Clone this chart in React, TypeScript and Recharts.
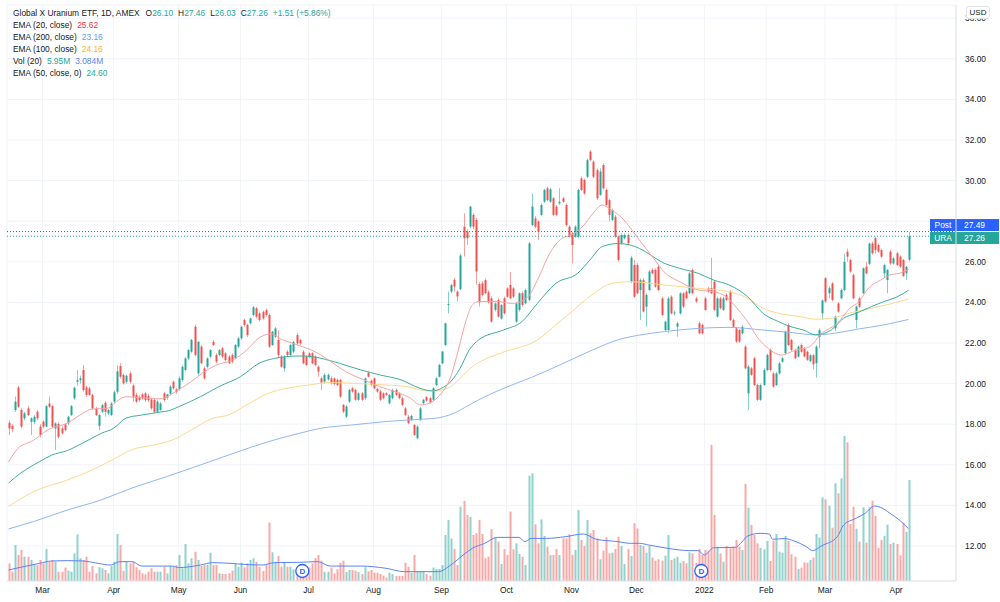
import React from 'react';
import {
  ComposedChart,
  Bar,
  Line,
  XAxis,
  YAxis,
  CartesianGrid,
  ReferenceLine,
  ReferenceDot,
} from 'recharts';

const FONT = "'Liberation Sans', Arial, sans-serif";
const TEXT = '#131722';
const UP = '#26a69a';
const DOWN = '#ef5350';
const VOL_UP = '#92d2cc';
const VOL_DOWN = '#f7a9a7';
const GRID = '#f0f3fa';
const BORDER = '#e0e3eb';

// daily candles: open, high, low, close
const candles: [number, number, number, number][] = [
  [18.07, 18.2, 17.47, 17.79], [17.92, 18.0, 17.6, 17.76], [18.7, 19.36, 18.6, 19.11], [19.81, 19.9, 18.8, 18.86],
  [18.7, 18.8, 17.8, 17.88], [18.29, 18.6, 18.2, 18.53], [18.78, 18.9, 18.4, 18.45], [18.12, 18.35, 17.47, 18.29],
  [18.12, 18.45, 18.0, 18.37], [18.61, 18.7, 18.2, 18.29], [17.88, 18.0, 17.35, 17.47], [18.12, 18.2, 17.8, 17.88],
  [17.88, 18.95, 17.85, 18.89], [19.02, 19.36, 18.8, 18.86], [18.89, 18.95, 17.8, 17.88], [17.79, 18.1, 16.73, 18.04],
  [18.01, 18.1, 17.3, 17.38], [17.79, 17.9, 17.5, 17.55], [17.99, 18.05, 17.65, 17.71], [18.04, 18.4, 17.95, 18.37],
  [18.45, 18.95, 18.4, 18.89], [19.27, 19.85, 19.2, 19.8], [20.09, 20.67, 19.9, 20.17], [20.17, 20.4, 20.0, 20.26],
  [20.67, 20.91, 19.6, 19.68], [19.81, 19.9, 19.35, 19.44], [19.76, 19.85, 19.4, 19.44], [19.44, 19.5, 18.7, 18.78],
  [18.78, 18.86, 18.4, 18.45], [17.92, 18.5, 17.7, 18.45], [18.61, 19.0, 18.55, 18.94], [19.06, 19.15, 18.37, 18.61],
  [18.53, 18.75, 18.45, 18.7], [18.45, 19.1, 18.4, 19.02], [19.11, 19.65, 19.05, 19.57], [19.6, 20.9, 19.5, 20.6],
  [20.86, 21.0, 20.25, 20.34], [20.42, 20.5, 19.95, 20.01], [20.09, 20.45, 20.0, 20.39], [20.5, 20.6, 20.0, 20.09],
  [19.91, 20.0, 19.1, 19.35], [19.44, 19.55, 19.05, 19.11], [19.35, 19.45, 19.1, 19.19], [19.47, 19.55, 19.2, 19.27],
  [19.52, 19.6, 19.1, 19.19], [19.39, 19.5, 19.1, 19.19], [19.22, 19.3, 18.7, 18.78], [19.19, 19.25, 18.53, 18.61],
  [18.61, 19.2, 18.55, 19.11], [18.7, 19.1, 18.65, 19.02], [19.52, 19.6, 19.1, 19.19], [19.31, 19.5, 19.2, 19.47],
  [19.5, 19.93, 19.45, 19.85], [20.09, 20.15, 19.7, 19.77], [19.72, 19.8, 19.5, 19.6], [19.72, 20.35, 19.65, 20.26],
  [20.18, 20.9, 20.1, 20.83], [20.67, 21.3, 20.6, 21.24], [21.24, 21.7, 21.15, 21.65], [21.57, 22.2, 21.5, 22.15],
  [22.8, 22.9, 21.35, 21.41], [20.5, 22.1, 20.4, 22.06], [21.82, 21.9, 20.95, 21.0], [20.75, 20.85, 20.2, 20.26],
  [20.83, 21.3, 20.75, 21.24], [21.33, 21.7, 21.25, 21.65], [22.06, 22.15, 21.85, 21.9], [21.41, 21.5, 21.0, 21.08],
  [21.41, 21.7, 21.35, 21.65], [21.74, 21.8, 21.25, 21.33], [21.49, 21.55, 21.1, 21.16], [21.33, 21.4, 20.95, 21.0],
  [21.41, 21.5, 21.0, 21.08], [21.24, 21.95, 21.2, 21.9], [21.82, 22.3, 21.75, 22.23], [22.23, 22.85, 22.15, 22.8],
  [23.13, 23.2, 22.8, 22.89], [22.89, 22.95, 22.3, 22.39], [22.97, 23.25, 22.9, 23.21], [23.38, 23.82, 23.3, 23.76],
  [23.71, 23.78, 23.2, 23.3], [23.46, 23.55, 23.05, 23.13], [23.54, 23.6, 23.15, 23.21], [23.62, 23.7, 23.3, 23.38],
  [23.38, 23.45, 21.75, 21.82], [21.9, 22.6, 21.85, 22.56], [22.31, 22.78, 22.25, 22.72], [22.15, 22.64, 21.3, 21.41],
  [21.33, 21.4, 20.78, 20.83], [20.75, 21.4, 20.59, 21.33], [21.57, 21.65, 21.35, 21.41], [21.41, 21.95, 21.35, 21.9],
  [21.57, 22.1, 21.5, 22.06], [22.39, 22.5, 21.9, 21.98], [22.15, 22.2, 21.9, 21.98], [21.57, 21.65, 20.95, 21.0],
  [21.33, 21.4, 20.85, 20.92], [21.49, 21.55, 21.25, 21.33], [21.49, 21.55, 20.95, 21.0], [21.33, 21.4, 20.85, 20.92],
  [20.83, 20.9, 20.34, 20.59], [20.26, 20.35, 19.68, 20.05], [20.1, 20.5, 20.0, 20.43], [20.21, 20.5, 20.15, 20.43],
  [20.26, 20.35, 19.95, 20.02], [20.26, 20.3, 19.9, 19.98], [20.18, 20.25, 19.88, 19.93], [20.18, 20.25, 19.3, 19.36],
  [18.95, 19.0, 18.54, 18.62], [18.37, 18.95, 18.3, 18.87], [19.11, 19.75, 19.05, 19.69], [19.77, 19.85, 19.55, 19.61],
  [19.69, 19.75, 19.15, 19.2], [19.2, 19.58, 19.15, 19.52], [19.52, 19.58, 19.15, 19.2], [19.28, 20.3, 19.2, 20.26],
  [20.54, 20.6, 20.3, 20.34], [20.15, 20.2, 19.88, 19.93], [20.26, 20.3, 19.72, 19.77], [19.74, 19.8, 19.55, 19.61],
  [19.61, 19.68, 19.15, 19.2], [19.52, 19.58, 19.22, 19.28], [19.52, 19.58, 19.4, 19.44], [19.03, 19.5, 18.98, 19.44],
  [19.28, 19.75, 19.22, 19.69], [19.69, 19.75, 19.38, 19.44], [19.52, 19.58, 19.22, 19.28], [19.28, 19.35, 18.9, 18.95],
  [18.78, 18.85, 18.4, 18.46], [18.37, 18.45, 18.0, 18.05], [18.21, 18.48, 18.15, 18.41], [17.96, 18.02, 17.42, 17.47],
  [17.31, 17.95, 17.26, 17.88], [18.21, 18.85, 18.15, 18.78], [19.03, 19.25, 18.98, 19.2], [19.33, 19.4, 19.1, 19.16],
  [19.28, 19.35, 19.0, 19.06], [19.2, 19.82, 19.15, 19.77], [19.93, 20.32, 19.88, 20.26], [20.34, 20.98, 20.3, 20.92],
  [21.0, 21.62, 20.95, 21.58], [21.9, 23.0, 21.85, 22.97], [23.87, 24.53, 23.46, 23.92], [24.53, 24.92, 24.45, 24.86],
  [25.11, 25.2, 24.53, 24.78], [24.53, 24.6, 24.04, 24.29], [24.65, 26.4, 24.6, 26.31], [27.73, 28.39, 26.26, 27.16],
  [27.49, 27.6, 26.83, 27.16], [27.73, 28.75, 27.65, 28.72], [28.31, 28.4, 27.6, 27.73], [28.06, 28.15, 24.86, 25.52],
  [24.9, 25.0, 23.8, 24.0], [24.94, 25.05, 24.3, 24.36], [25.1, 25.2, 24.4, 24.45], [24.5, 24.6, 23.95, 24.0],
  [24.2, 24.3, 23.0, 23.05], [23.63, 24.0, 23.55, 23.95], [24.12, 24.2, 23.25, 23.3], [23.2, 23.92, 23.15, 23.87],
  [24.2, 24.28, 23.4, 23.46], [24.69, 24.75, 24.22, 24.28], [24.86, 25.5, 24.15, 24.2], [24.69, 24.75, 24.22, 24.28],
  [23.05, 24.0, 23.0, 23.95], [23.63, 24.5, 23.55, 24.45], [24.45, 24.55, 23.8, 23.87], [23.95, 24.68, 23.9, 24.61],
  [24.12, 26.98, 24.05, 26.91], [27.81, 29.37, 27.75, 28.72], [28.14, 28.25, 27.65, 27.73], [27.98, 28.05, 27.07, 27.48],
  [28.31, 28.88, 28.25, 28.8], [28.96, 29.6, 28.9, 29.54], [29.62, 29.7, 28.98, 29.04], [28.96, 29.65, 28.9, 29.57],
  [29.13, 29.2, 28.25, 28.31], [28.72, 28.8, 28.25, 28.31], [28.88, 29.62, 28.8, 28.96], [29.13, 29.2, 28.9, 28.96],
  [28.8, 28.88, 27.75, 27.81], [27.73, 27.8, 27.18, 27.24], [27.4, 27.48, 25.92, 26.83], [27.24, 27.8, 27.18, 27.73],
  [27.24, 29.6, 27.18, 29.54], [30.11, 30.2, 29.48, 29.54], [30.03, 30.1, 29.3, 29.37], [30.19, 31.08, 30.12, 31.01],
  [31.43, 31.5, 30.95, 31.01], [30.93, 31.0, 30.12, 30.19], [30.52, 30.6, 29.05, 29.13], [29.3, 30.6, 29.25, 30.45],
  [30.77, 30.85, 29.55, 29.62], [29.54, 29.62, 28.72, 28.8], [29.04, 29.1, 28.0, 28.31], [28.06, 28.62, 28.0, 28.55],
  [28.22, 28.3, 27.18, 27.24], [27.24, 27.3, 26.02, 26.09], [26.91, 27.4, 26.85, 27.32], [27.16, 27.4, 27.1, 27.32],
  [27.32, 27.4, 26.85, 26.91], [25.02, 26.3, 24.95, 26.2], [25.84, 26.09, 24.22, 24.28], [25.84, 25.95, 24.4, 24.45],
  [24.61, 25.18, 23.13, 25.1], [25.1, 25.2, 23.5, 23.55], [23.79, 24.45, 22.8, 24.37], [24.61, 25.6, 24.55, 25.52],
  [25.6, 25.68, 25.38, 25.43], [25.6, 25.68, 24.72, 24.78], [25.76, 25.85, 24.55, 24.61], [24.2, 24.28, 23.32, 23.38],
  [22.64, 23.1, 22.58, 23.05], [22.64, 24.28, 22.48, 24.2], [24.28, 24.35, 23.4, 23.46], [23.46, 23.6, 23.35, 23.5],
  [22.8, 23.05, 22.31, 22.97], [23.46, 24.5, 23.4, 24.45], [24.45, 24.52, 23.72, 23.79], [24.53, 24.6, 24.15, 24.2],
  [24.45, 25.5, 24.4, 25.43], [25.6, 25.68, 24.4, 24.45], [24.2, 24.28, 23.98, 24.04], [22.97, 23.05, 22.42, 22.48],
  [22.89, 22.95, 22.42, 22.48], [24.2, 24.28, 23.58, 23.63], [24.69, 24.75, 24.48, 24.53], [24.7, 26.2, 24.4, 24.45],
  [25.02, 25.1, 23.58, 23.63], [23.3, 24.28, 23.25, 24.2], [24.2, 24.28, 23.65, 23.71], [23.63, 24.28, 23.58, 24.2],
  [24.37, 24.45, 24.05, 24.12], [24.53, 24.6, 23.08, 23.13], [23.13, 23.2, 22.75, 22.8], [22.72, 22.8, 22.0, 22.07],
  [22.64, 22.7, 22.0, 22.07], [22.48, 22.88, 22.42, 22.8], [21.82, 21.9, 20.7, 20.75], [19.52, 20.92, 18.7, 20.84],
  [20.75, 20.82, 20.38, 20.43], [21.25, 21.32, 19.88, 19.93], [19.93, 20.0, 19.15, 19.2], [19.2, 20.0, 19.15, 19.93],
  [19.93, 20.75, 19.88, 20.67], [20.67, 21.48, 20.6, 21.41], [21.66, 21.72, 20.6, 20.67], [20.5, 20.58, 19.8, 19.85],
  [19.93, 20.58, 19.88, 20.5], [20.5, 21.08, 20.45, 21.0], [21.08, 21.32, 21.02, 21.25], [21.5, 22.62, 21.45, 22.56],
  [22.89, 22.97, 21.85, 21.9], [22.15, 22.22, 21.6, 21.66], [21.66, 21.72, 21.2, 21.25], [21.33, 21.88, 21.28, 21.82],
  [21.9, 21.98, 21.52, 21.57], [21.74, 21.8, 21.28, 21.33], [21.57, 21.62, 21.12, 21.17], [21.1, 21.45, 21.05, 21.4],
  [21.4, 21.48, 20.7, 20.95], [21.0, 21.9, 20.3, 21.82], [22.3, 22.72, 21.74, 22.64], [23.46, 24.15, 23.13, 24.1],
  [25.19, 25.25, 23.98, 24.04], [24.45, 24.8, 24.2, 24.7], [24.94, 25.0, 24.05, 24.12], [22.72, 23.35, 22.6, 23.3],
  [23.95, 24.02, 23.5, 23.55], [24.2, 24.68, 24.15, 24.61], [24.61, 26.4, 24.55, 26.0], [26.5, 26.65, 26.0, 26.25],
  [26.09, 26.15, 25.45, 25.52], [25.35, 25.42, 24.15, 24.2], [23.13, 23.85, 22.72, 23.79], [24.2, 24.28, 23.72, 23.79],
  [24.45, 25.72, 24.4, 25.68], [25.76, 26.0, 25.38, 25.43], [25.9, 26.95, 25.85, 26.9], [26.9, 27.0, 26.35, 26.42],
  [27.16, 27.24, 26.4, 26.58], [26.83, 26.9, 26.45, 26.5], [26.58, 26.65, 26.2, 26.25], [25.43, 25.9, 25.2, 25.84],
  [25.1, 25.65, 24.45, 25.6], [26.5, 26.58, 25.85, 25.92], [25.92, 26.25, 25.85, 26.17], [26.42, 26.5, 25.78, 25.84],
  [26.25, 26.32, 25.7, 25.76], [26.09, 26.15, 25.25, 25.3], [25.43, 25.8, 25.1, 25.75], [26.1, 27.46, 26.03, 27.26],
];

// daily volume, millions
const volumes: number[] = [
  1.04, 0.55, 2.12, 1.53, 1.83, 1.43, 1.43, 1.24, 0.94, 0.94, 1.24, 1.04, 1.89, 1.14, 1.24, 1.14, 0.55, 0.55, 0.79, 0.61,
  0.55, 1.63, 2.75, 1.34, 1.24, 1.43, 0.55, 0.88, 0.45, 0.81, 0.75, 0.65, 0.45, 0.88, 1.14, 2.77, 2.12, 0.59, 1.14, 1.04,
  1.14, 0.81, 0.65, 0.45, 0.39, 0.55, 0.75, 0.55, 0.55, 0.55, 0.84, 0.45, 0.88, 0.84, 0.94, 1.53, 0.75, 2.18, 1.04, 1.34,
  1.73, 1.24, 0.88, 0.94, 0.94, 1.67, 0.94, 0.94, 0.45, 0.41, 0.41, 0.45, 0.61, 1.04, 0.84, 1.08, 0.81, 1.04, 1.24, 1.34,
  1.14, 0.84, 0.59, 0.94, 3.44, 1.69, 1.14, 1.47, 0.84, 1.08, 0.84, 0.84, 0.69, 0.45, 0.35, 0.35, 0.69, 0.79, 1.04, 1.34,
  1.53, 1.2, 0.55, 0.55, 0.79, 0.45, 0.69, 1.08, 1.2, 0.53, 0.65, 0.65, 0.61, 0.53, 0.41, 0.81, 0.57, 0.65, 0.49, 0.49,
  0.41, 0.31, 0.2, 0.49, 0.41, 0.29, 0.31, 0.31, 1.08, 0.84, 0.49, 1.53, 0.55, 0.55, 0.55, 0.41, 0.31, 0.79, 0.71, 0.71,
  0.94, 2.71, 3.6, 2.51, 1.89, 0.94, 4.38, 4.72, 3.89, 3.79, 2.71, 2.81, 3.6, 2.77, 1.34, 1.43, 3.06, 2.57, 2.32, 1.0,
  1.89, 1.53, 4.09, 1.87, 2.22, 1.59, 1.43, 0.94, 6.21, 6.35, 3.34, 2.22, 3.63, 2.65, 2.02, 1.53, 1.53, 1.89, 1.53, 2.51,
  2.51, 2.75, 1.53, 1.83, 4.18, 2.42, 2.06, 3.6, 2.81, 3.01, 2.51, 1.28, 1.79, 2.57, 1.63, 1.67, 1.89, 2.61, 2.06, 1.0,
  1.89, 1.47, 3.4, 3.1, 2.12, 2.06, 1.67, 2.06, 1.38, 1.2, 1.28, 1.2, 1.49, 2.71, 1.24, 1.34, 1.43, 1.08, 1.18, 1.04,
  1.69, 1.63, 1.08, 1.89, 1.53, 1.83, 1.79, 8.02, 3.89, 2.02, 1.63, 1.14, 2.06, 1.93, 2.02, 2.42, 2.02, 1.83, 5.72, 4.32,
  3.3, 2.71, 2.22, 1.96, 1.87, 2.36, 1.18, 2.38, 2.77, 1.73, 1.67, 2.65, 2.36, 1.57, 1.43, 0.71, 0.79, 1.1, 1.08, 1.24,
  1.38, 2.77, 2.57, 4.93, 4.81, 4.44, 3.14, 5.76, 5.17, 6.05, 8.55, 8.17, 3.36, 4.38, 3.08, 2.32, 4.34, 2.26, 4.34, 4.73,
  3.83, 1.96, 2.42, 2.65, 3.32, 2.18, 2.26, 2.18, 1.51, 3.44, 2.89, 5.95,
];

// moving averages, sampled as [candle index, value]
const ema20: [number, number][] = [
  [0, 16.14], [3, 16.8], [8, 17.2], [13, 17.75], [19, 18.05], [24, 18.54], [27, 18.75], [32, 18.78], [34, 19.0],
  [38, 19.35], [43, 19.3], [49, 19.25], [55, 19.7], [60, 20.2], [63, 20.55], [67, 20.9], [73, 21.2], [77, 21.65],
  [81, 22.25], [85, 22.45], [88, 22.2], [92, 21.98], [95, 21.82], [98, 21.65], [101, 21.41], [105, 21.0], [109, 20.59],
  [115, 20.18], [120, 19.85], [125, 19.6], [130, 19.28], [133, 18.95], [136, 19.03], [139, 19.36], [143, 20.34],
  [146, 21.99], [148, 23.14], [150, 23.88], [152, 24.04], [158, 24.04], [163, 23.95], [168, 24.28], [171, 25.1],
  [175, 26.42], [179, 27.16], [182, 27.32], [186, 27.8], [189, 28.39], [192, 28.8], [195, 28.55], [199, 28.06],
  [202, 27.48], [204, 27.07], [209, 26.09], [212, 25.5], [217, 25.02], [223, 24.61], [228, 24.53], [232, 24.28],
  [236, 23.63], [239, 23.05], [242, 22.31], [245, 21.82], [248, 21.49], [250, 21.41], [254, 21.62], [256, 21.69],
  [259, 21.82], [263, 22.48], [268, 22.97], [272, 23.71], [275, 24.04], [278, 24.69], [282, 25.1], [285, 25.35],
  [288, 25.43], [291, 25.62],
];

const ema50: [number, number][] = [
  [0, 15.1], [4, 15.6], [10, 16.15], [14, 16.48], [19, 16.7], [24, 17.07], [30, 17.55], [34, 17.8], [38, 18.3],
  [43, 18.45], [49, 18.6], [52, 18.67], [55, 18.86], [62, 19.35], [68, 19.85], [75, 20.34], [81, 21.0], [86, 21.24],
  [90, 21.33], [94, 21.36], [98, 21.33], [104, 21.13], [107, 21.0], [114, 20.67], [120, 20.43], [127, 20.18],
  [133, 19.77], [137, 19.64], [140, 19.77], [143, 20.1], [146, 20.75], [149, 21.66], [152, 22.15], [160, 22.64],
  [166, 23.05], [171, 23.95], [177, 24.94], [184, 25.43], [188, 26.09], [192, 26.75], [197, 26.9], [201, 26.83],
  [204, 26.66], [212, 25.93], [217, 25.68], [223, 25.43], [228, 25.1], [233, 24.86], [239, 24.28], [244, 23.46],
  [249, 23.05], [253, 22.8], [257, 22.64], [261, 22.4], [266, 22.64], [270, 23.22], [274, 23.46], [279, 23.79],
  [283, 24.04], [287, 24.25], [291, 24.6],
];

const ema100: [number, number][] = [
  [0, 13.94], [8, 14.67], [19, 15.25], [27, 15.74], [34, 16.28], [40, 16.75], [47, 16.98], [53, 17.22], [59, 17.71],
  [66, 18.29], [71, 18.45], [77, 18.95], [84, 19.52], [90, 19.77], [97, 19.93], [104, 20.05], [111, 20.02],
  [122, 19.93], [129, 19.85], [133, 19.69], [137, 19.64], [142, 19.77], [146, 20.26], [150, 20.84], [152, 21.04],
  [160, 21.55], [171, 22.15], [177, 22.89], [184, 23.79], [190, 24.53], [195, 24.94], [201, 25.02], [212, 24.86],
  [223, 24.69], [233, 24.53], [239, 24.2], [244, 23.71], [249, 23.46], [256, 23.3], [261, 23.17], [266, 23.22],
  [270, 23.38], [274, 23.55], [279, 23.71], [285, 23.92], [291, 24.16],
];

const ema200: [number, number][] = [
  [0, 12.84], [8, 13.2], [19, 13.77], [30, 14.27], [40, 14.86], [51, 15.41], [62, 15.99], [73, 16.58], [84, 17.14],
  [94, 17.55], [101, 17.8], [111, 17.96], [122, 18.13], [133, 18.24], [138, 18.29], [144, 18.54], [149, 18.95],
  [152, 19.2], [159, 19.7], [169, 20.3], [178, 20.9], [188, 21.6], [198, 22.2], [204, 22.39], [212, 22.56],
  [223, 22.72], [233, 22.77], [244, 22.64], [253, 22.52], [261, 22.4], [267, 22.48], [274, 22.67], [283, 22.89],
  [291, 23.16],
];

const volMa: [number, number][] = [
  [0, 0.65], [4, 0.81], [10, 1.04], [14, 1.18], [19, 1.2], [24, 1.18], [29, 1.04], [33, 0.94], [36, 1.14], [40, 1.14],
  [43, 0.88], [53, 0.88], [55, 0.79], [62, 0.94], [66, 1.08], [82, 0.94], [86, 1.08], [94, 1.1], [100, 1.14],
  [104, 0.88], [114, 0.88], [122, 0.75], [128, 0.55], [139, 0.55], [143, 0.94], [147, 1.53], [150, 1.93], [154, 2.22],
  [158, 2.57], [165, 2.57], [167, 2.32], [169, 2.51], [174, 2.51], [180, 2.61], [186, 2.77], [190, 2.46], [197, 2.32],
  [201, 2.22], [204, 2.22], [207, 2.12], [213, 1.93], [220, 1.79], [223, 1.79], [225, 1.53], [228, 1.96], [235, 1.98],
  [236, 2.08], [239, 2.65], [243, 2.81], [246, 2.77], [247, 2.46], [251, 2.5], [254, 2.36], [258, 2.02], [260, 1.79],
  [263, 2.08], [268, 2.61], [270, 3.3], [274, 3.69], [277, 3.99], [280, 4.42], [282, 4.34], [285, 3.99], [288, 3.6],
  [291, 3.084],
];

const monthTicks = [11, 34, 55, 75, 97, 118, 140, 161, 182, 203, 225, 245, 264, 287];
const monthLabels = ['Mar', 'Apr', 'May', 'Jun', 'Jul', 'Aug', 'Sep', 'Oct', 'Nov', 'Dec', '2022', 'Feb', 'Mar', 'Apr'];
const priceTicks = [12, 14, 16, 18, 20, 22, 24, 26, 28, 30, 32, 34, 36, 38];
const dividendDays = [95, 224];
const postPrice = 27.49;

const rows = candles.map(([o, h, l, c], i) => ({ i, o, h, l, c, range: [l, h], vol: volumes[i] }));
const toPts = (arr: [number, number][]) => arr.map(([i, v]) => ({ i, v }));
const last = <T,>(a: T[]) => a[a.length - 1];
const lastClose = last(candles)[3];
const lastOpen = last(candles)[0];
const prevClose = candles[candles.length - 2][3];

function Candle(props: any) {
  const { x, y, width, height, payload } = props;
  const { o, h, l, c } = payload;
  const top = Math.min(y, y + height);
  const span = Math.abs(height);
  const k = span / (h - l || 1);
  const cx = Math.round(x + width / 2);
  const yo = top + (h - o) * k;
  const yc = top + (h - c) * k;
  const color = c >= o ? UP : DOWN;
  const bt = Math.min(yo, yc);
  const bh = Math.max(Math.abs(yo - yc), 1);
  return (
    <g>
      <line x1={cx + 0.5} x2={cx + 0.5} y1={top} y2={top + span} stroke={color} strokeOpacity={0.55} strokeWidth={1} />
      <rect x={cx - 0.5} y={bt} width={2} height={bh} fill={color} />
    </g>
  );
}

function VolBar(props: any) {
  const { x, y, width, height, payload } = props;
  const cx = Math.round(x + width / 2);
  return (
    <rect
      x={cx - 0.5}
      y={Math.min(y, y + height)}
      width={2}
      height={Math.abs(height)}
      fill={payload.c >= payload.o ? VOL_UP : VOL_DOWN}
    />
  );
}

// coloured tag pair on the price scale: series name + value
function PriceTag({ viewBox, tag, value, color, shift }: any) {
  const right = viewBox.x + viewBox.width;
  const cy = viewBox.y + shift;
  return (
    <g style={{ fontFamily: FONT }}>
      <rect x={right - 26} y={cy - 6} width={26} height={12} fill={color} />
      <text x={right - 13} y={cy} dy="0.35em" textAnchor="middle" fontSize={8.4} fill="#fff">
        {tag}
      </text>
      <rect x={right} y={cy - 6} width={43} height={12} fill={color} />
      <text x={right + 8} y={cy} dy="0.35em" fontSize={8.4} fill="#fff">
        {value.toFixed(2)}
      </text>
    </g>
  );
}

function DivMark(props: any) {
  const { cx, cy } = props;
  return (
    <g>
      <circle cx={cx} cy={cy} r={6.5} fill="#fff" stroke="#2962ff" strokeWidth={1.3} />
      <text x={cx} y={cy} dy="0.35em" textAnchor="middle" fontSize={8} fontWeight={700} fill="#2962ff" fontFamily={FONT}>
        D
      </text>
    </g>
  );
}

const legendRow: React.CSSProperties = { height: 12.2, whiteSpace: 'nowrap' };
const gap = (n: number): React.CSSProperties => ({ marginLeft: n });

export default function App() {
  const change = lastClose - prevClose;
  const pct = (change / prevClose) * 100;
  return (
    <div style={{ position: 'absolute', left: 0, top: 0, width: 1000, height: 602, background: '#fff', fontFamily: FONT }}>
      <ComposedChart width={1000} height={602} data={rows} margin={{ top: 5, right: 0, bottom: 1, left: 7 }}>
        <CartesianGrid stroke={GRID} yAxisId="price" />
        <XAxis
          dataKey="i"
          type="number"
          domain={[-0.485, 306.36]}
          allowDataOverflow
          ticks={monthTicks}
          interval={0}
          tickFormatter={(v: number) => monthLabels[monthTicks.indexOf(v)] ?? ''}
          tick={{ fontSize: 8.4, fill: TEXT, fontFamily: FONT }}
          tickLine={false}
          tickSize={0}
          tickMargin={6}
          axisLine={{ stroke: BORDER }}
          height={20}
        />
        <XAxis xAxisId="vx" dataKey="i" type="number" domain={[-0.485, 306.36]} allowDataOverflow hide />
        <YAxis
          yAxisId="price"
          orientation="right"
          type="number"
          domain={[10.276, 38.65]}
          allowDataOverflow
          ticks={priceTicks}
          interval={0}
          // the 28.00 level sits under the Post / URA tags
          tickFormatter={(v: number) => (v === 28 ? '' : v.toFixed(2))}
          tick={{ fontSize: 8.4, fill: TEXT, fontFamily: FONT }}
          tickLine={false}
          tickSize={0}
          tickMargin={9}
          axisLine={{ stroke: BORDER }}
          width={44}
        />
        <YAxis yAxisId="vol" type="number" domain={[0, 33.94]} allowDataOverflow hide />

        <Bar dataKey="vol" xAxisId="vx" yAxisId="vol" barSize={2} shape={VolBar} isAnimationActive={false} />
        <Line
          data={toPts(volMa)}
          dataKey="v"
          xAxisId="vx"
          yAxisId="vol"
          type="monotone"
          stroke="#5b82f5"
          strokeWidth={1}
          dot={false}
          activeDot={false}
          isAnimationActive={false}
        />
        {dividendDays.map((d) => (
          <ReferenceDot key={d} x={d} y={0.59} xAxisId="vx" yAxisId="vol" r={6.5} shape={DivMark} />
        ))}

        <Bar dataKey="range" yAxisId="price" barSize={2} shape={Candle} isAnimationActive={false} />

        <Line data={toPts(ema200)} dataKey="v" yAxisId="price" type="monotone" stroke="#90b7f2" strokeWidth={1} dot={false} activeDot={false} isAnimationActive={false} />
        <Line data={toPts(ema100)} dataKey="v" yAxisId="price" type="monotone" stroke="#fdd98e" strokeWidth={1} dot={false} activeDot={false} isAnimationActive={false} />
        <Line data={toPts(ema50)} dataKey="v" yAxisId="price" type="monotone" stroke="#3daf9c" strokeWidth={1} dot={false} activeDot={false} isAnimationActive={false} />
        <Line data={toPts(ema20)} dataKey="v" yAxisId="price" type="monotone" stroke="#f6a3a3" strokeWidth={1} dot={false} activeDot={false} isAnimationActive={false} />

        <ReferenceLine
          y={postPrice}
          yAxisId="price"
          stroke="#2962ff"
          strokeDasharray="1 2"
          label={(p: any) => <PriceTag {...p} tag="Post" value={postPrice} color="#2962ff" shift={-6.5} />}
        />
        <ReferenceLine
          y={lastClose}
          yAxisId="price"
          stroke={UP}
          strokeDasharray="1 2"
          label={(p: any) => <PriceTag {...p} tag="URA" value={lastClose} color={UP} shift={1.8} />}
        />
      </ComposedChart>

      <div
        style={{
          position: 'absolute',
          left: 966,
          top: 6,
          width: 22,
          height: 11,
          border: `1px solid ${BORDER}`,
          borderRadius: 3,
          background: '#fff',
          fontSize: 8,
          lineHeight: '11px',
          textAlign: 'center',
          color: TEXT,
        }}
      >
        USD
      </div>

      <div style={{ position: 'absolute', left: 13, top: 6.5, fontSize: 8.4, lineHeight: '12.2px', color: TEXT }}>
        <div style={legendRow}>
          Global X Uranium ETF, 1D, AMEX
          <span style={gap(6)}>O</span>
          <span style={{ color: UP }}>{lastOpen.toFixed(2)}</span>
          <span style={gap(5)}>H</span>
          <span style={{ color: UP }}>{last(candles)[1].toFixed(2)}</span>
          <span style={gap(5)}>L</span>
          <span style={{ color: UP }}>{last(candles)[2].toFixed(2)}</span>
          <span style={gap(5)}>C</span>
          <span style={{ color: UP }}>{lastClose.toFixed(2)}</span>
          <span style={{ ...gap(5), color: UP }}>
            +{change.toFixed(2)} (+{pct.toFixed(2)}%)
          </span>
        </div>
        <div style={legendRow}>
          EMA (20, close)<span style={{ ...gap(5), color: '#f23645' }}>{last(ema20)[1].toFixed(2)}</span>
        </div>
        <div style={legendRow}>
          EMA (200, close)<span style={{ ...gap(5), color: '#5b9cf6' }}>{last(ema200)[1].toFixed(2)}</span>
        </div>
        <div style={legendRow}>
          EMA (100, close)<span style={{ ...gap(5), color: '#f9b233' }}>{last(ema100)[1].toFixed(2)}</span>
        </div>
        <div style={legendRow}>
          Vol (20)<span style={{ ...gap(5), color: UP }}>{last(volumes).toFixed(2)}M</span>
          <span style={{ ...gap(5), color: '#5b82f5' }}>{last(volMa)[1].toFixed(3)}M</span>
        </div>
        <div style={legendRow}>
          EMA (50, close, 0)<span style={{ ...gap(5), color: '#22ab94' }}>{last(ema50)[1].toFixed(2)}</span>
        </div>
      </div>
    </div>
  );
}
